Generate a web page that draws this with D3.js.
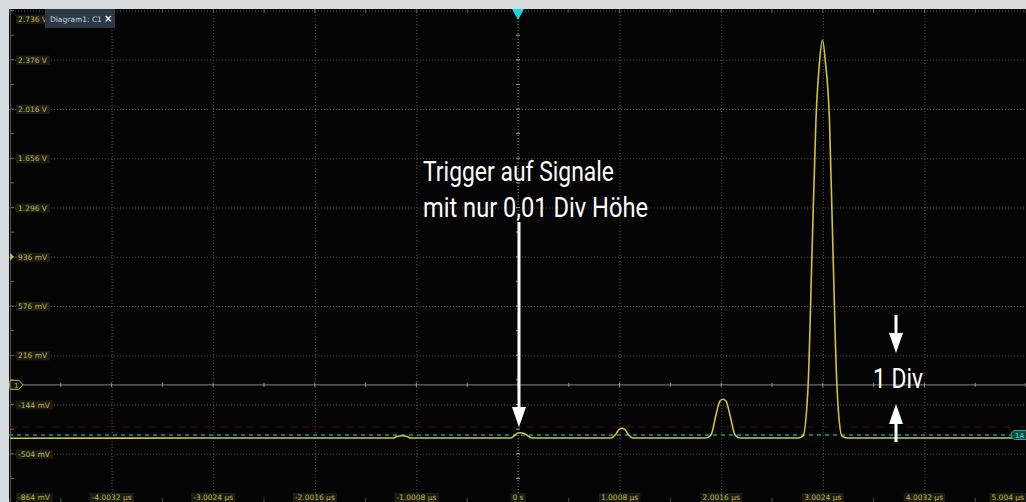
<!DOCTYPE html>
<html><head><meta charset="utf-8">
<script src="https://cdn.jsdelivr.net/npm/d3@7"></script>
<style>html,body{margin:0;padding:0;background:#d8dcdf;overflow:hidden}svg{display:block}</style>
</head><body>
<svg id="c" width="1026" height="502"></svg>
<script>
// ---- data ----
const xTickValues = [-5.004, -4.0032, -3.0024, -2.0016, -1.0008, 0, 1.0008, 2.0016, 3.0024, 4.0032, 5.004];
const xTickLabels = ["", "-4.0032 µs", "-3.0024 µs", "-2.0016 µs", "-1.0008 µs", "0 s", "1.0008 µs", "2.0016 µs", "3.0024 µs", "4.0032 µs", "5.004 µs"];
const yTickValues = [2.736, 2.376, 2.016, 1.656, 1.296, 0.936, 0.576, 0.216, -0.144, -0.504, -0.864];
const yTickLabels = ["2.736 V", "2.376 V", "2.016 V", "1.656 V", "1.296 V", "936 mV", "576 mV", "216 mV", "-144 mV", "-504 mV", "-864 mV"];
// waveform samples: time (µs), voltage (V)
const traceTime = [-5.004, -3.0, -1.231, -1.192, -1.143, -1.093, -1.054,
  -0.069, -0.030, 0.0, 0.030, 0.059, 0.099, 0.138,
  0.916, 0.965, 0.995, 1.024, 1.054, 1.083, 1.133,
  1.852, 1.901, 1.950, 1.990, 2.019, 2.049, 2.088, 2.138, 2.187,
  2.758, 2.807, 2.857, 2.896, 2.935, 2.970, 2.999, 3.028, 3.068, 3.103, 3.142, 3.191, 3.241,
  5.004];
const traceVolt = [-0.391, -0.389, -0.389, -0.378, -0.372, -0.378, -0.389,
  -0.389, -0.367, -0.352, -0.350, -0.356, -0.374, -0.389,
  -0.389, -0.360, -0.327, -0.318, -0.327, -0.360, -0.389,
  -0.389, -0.367, -0.221, -0.118, -0.106, -0.118, -0.221, -0.367, -0.389,
  -0.389, -0.374, -0.016, 0.963, 1.936, 2.360, 2.520, 2.360, 1.936, 0.963, -0.016, -0.374, -0.389,
  -0.389];
const triggerLevel = -0.367;
const hysteresisLevel = -0.308;
const groundLevel = 0;
const annotationLines = ["Trigger auf Signale", "mit nur 0,01 Div Höhe"];
const divLabel = "1 Div";

// ---- drawing ----
const svg = d3.select("#c");
const L = 9, T = 9, R = 1026, B = 502;
const x = d3.scaleLinear().domain([-5.004, 5.004]).range([10, 1026]);
const y = d3.scaleLinear().domain([-0.864, 2.736]).range([503, 10.5]);

svg.append("rect").attr("width", 1026).attr("height", 502).attr("fill", "#d8dcdf");
svg.append("rect").attr("x", L).attr("y", T).attr("width", R - L).attr("height", B - T).attr("fill", "#040404");
svg.append("clipPath").attr("id", "plot").append("rect").attr("x", L).attr("y", T).attr("width", R - L).attr("height", B - T);
const g = svg.append("g").attr("clip-path", "url(#plot)");

// grid via axes
g.append("g").attr("transform", `translate(0,${B})`)
  .call(d3.axisBottom(x).tickValues(xTickValues).tickSize(-(B - T)).tickFormat(""))
  .call(a => a.select(".domain").remove())
  .call(a => a.selectAll("line").attr("stroke", "#4e4e4e").attr("stroke-dasharray", "1,2"));
g.append("g").attr("transform", `translate(${L},0)`)
  .call(d3.axisLeft(y).tickValues(yTickValues).tickSize(-(R - L)).tickFormat(""))
  .call(a => a.select(".domain").remove())
  .call(a => a.selectAll("line").attr("stroke", "#4e4e4e").attr("stroke-dasharray", "1,2"));

// half-division minor ticks
const halfX = d3.range(xTickValues.length - 1).map(i => (xTickValues[i] + xTickValues[i + 1]) / 2);
const halfY = d3.range(yTickValues.length - 1).map(i => (yTickValues[i] + yTickValues[i + 1]) / 2);
const allX = xTickValues.concat(halfX), allY = yTickValues.concat(halfY);

// left edge line and ticks
g.append("line").attr("x1", 10.5).attr("x2", 10.5).attr("y1", T).attr("y2", B).attr("stroke", "#555");
g.selectAll(".ly").data(allY).join("line").attr("x1", 10).attr("x2", 14)
  .attr("y1", d => y(d)).attr("y2", d => y(d)).attr("stroke", "#666");
// top/bottom edge ticks
g.selectAll(".tx").data(allX).join("line").attr("x1", d => x(d)).attr("x2", d => x(d))
  .attr("y1", T).attr("y2", T + 4).attr("stroke", "#555");
g.selectAll(".bx").data(allX).join("line").attr("x1", d => x(d)).attr("x2", d => x(d))
  .attr("y1", B - 4).attr("y2", B).attr("stroke", "#555");

// center crosshair: ground line and trigger time line
g.append("line").attr("x1", L).attr("x2", R).attr("y1", y(groundLevel)).attr("y2", y(groundLevel))
  .attr("stroke", "#686868").attr("stroke-width", 1.2);
g.selectAll(".gx").data(allX).join("line").attr("x1", d => x(d)).attr("x2", d => x(d))
  .attr("y1", y(groundLevel) - 2).attr("y2", y(groundLevel) + 2).attr("stroke", "#999");
g.append("line").attr("x1", x(0)).attr("x2", x(0)).attr("y1", T).attr("y2", B)
  .attr("stroke", "#666").attr("stroke-dasharray", "1,2");
g.selectAll(".vy").data(allY).join("line").attr("x1", x(0) - 2).attr("x2", x(0) + 2)
  .attr("y1", d => y(d)).attr("y2", d => y(d)).attr("stroke", "#999");

// hysteresis (dim red) and trigger level (teal dashed)
g.append("line").attr("x1", L).attr("x2", R).attr("y1", y(hysteresisLevel)).attr("y2", y(hysteresisLevel))
  .attr("stroke", "#3e0a0a").attr("stroke-dasharray", "8,6");
g.append("line").attr("x1", L).attr("x2", R).attr("y1", y(triggerLevel)).attr("y2", y(triggerLevel))
  .attr("stroke", "#14968e").attr("stroke-width", 1.5).attr("stroke-dasharray", "4,4");

// waveform
const pts = traceTime.map((t, i) => [t, traceVolt[i]]);
const line = d3.line().x(d => x(d[0])).y(d => y(d[1])).curve(d3.curveMonotoneX);
g.append("path").attr("d", line(pts)).attr("fill", "none").attr("stroke", "#d0c532").attr("stroke-width", 1.6);

// y labels
const font = "'DejaVu Sans', sans-serif";
yTickValues.forEach((v, i) => {
  let yy = y(v) + 3;
  if (i === 0) yy = 22; if (i === yTickValues.length - 1) yy = 500;
  const tx = svg.append("text").attr("x", 18).attr("y", yy).text(yTickLabels[i])
    .attr("font-family", font).attr("font-size", 7.5).attr("fill", "#c2ba48");
  const bb = tx.node().getBBox();
  svg.insert("rect", () => tx.node()).attr("x", bb.x - 2).attr("y", bb.y).attr("width", bb.width + 4).attr("height", bb.height)
    .attr("fill", "#1c1c16");
});
// x labels
xTickValues.forEach((v, i) => {
  if (!xTickLabels[i]) return;
  let xx = x(v), anchor = "middle";
  if (i === xTickValues.length - 1) { xx = 1024; anchor = "end"; }
  const tx = svg.append("text").attr("x", xx).attr("y", 500).attr("text-anchor", anchor).text(xTickLabels[i])
    .attr("font-family", font).attr("font-size", 7.5).attr("fill", "#c2ba48");
  const bb = tx.node().getBBox();
  svg.insert("rect", () => tx.node()).attr("x", bb.x - 2).attr("y", bb.y).attr("width", bb.width + 4).attr("height", bb.height)
    .attr("fill", "#1c1c16");
});

// channel markers
svg.append("path").attr("d", `M10,${y(0.936) - 4} L14,${y(0.936)} L10,${y(0.936) + 4} Z`).attr("fill", "#c2ba48");
const gy = y(groundLevel);
svg.append("path").attr("d", `M10,${gy - 4.5} L19,${gy - 4.5} L23,${gy} L19,${gy + 4.5} L10,${gy + 4.5} Z`)
  .attr("fill", "#111").attr("stroke", "#c2ba48").attr("stroke-width", 1);
svg.append("text").attr("x", 14).attr("y", gy + 3).text("1").attr("font-family", font).attr("font-size", 7).attr("fill", "#c2ba48");

// trigger level tag at right
const ty = y(triggerLevel);
svg.append("rect").attr("x", 1011).attr("y", ty - 4.5).attr("width", 20).attr("height", 9).attr("rx", 4.5)
  .attr("fill", "#0d4d48").attr("stroke", "#22a89d");
svg.append("text").attr("x", 1015).attr("y", ty + 3).text("1A").attr("font-family", font).attr("font-size", 7).attr("fill", "#7fded5");

// trigger position marker at top
svg.append("path").attr("d", `M${x(0) - 6},9 L${x(0) + 6},9 L${x(0)},20 Z`).attr("fill", "#1fd2e0");

// diagram tab
svg.append("rect").attr("x", 45).attr("y", 9).attr("width", 70).attr("height", 19).attr("fill", "#2b3946");
svg.append("text").attr("x", 50).attr("y", 21.5).text("Diagram1: C1").attr("font-family", font).attr("font-size", 7.5).attr("fill", "#c9d3dc");
svg.append("text").attr("x", 104).attr("y", 22).text("×").attr("font-family", font).attr("font-size", 10).attr("font-weight", "bold").attr("fill", "#ffffff");

// annotations
const afont = "Roboto, 'Liberation Sans', sans-serif";
const a1 = svg.append("text").attr("font-family", afont).attr("font-size", 27).attr("fill", "#ffffff");
a1.append("tspan").attr("x", 423).attr("y", 181).attr("textLength", 191).attr("lengthAdjust", "spacingAndGlyphs").text(annotationLines[0]);
a1.append("tspan").attr("x", 423).attr("y", 217).attr("textLength", 225).attr("lengthAdjust", "spacingAndGlyphs").text(annotationLines[1]);
svg.append("text").attr("x", 873).attr("y", 388).attr("textLength", 50).attr("lengthAdjust", "spacingAndGlyphs")
  .attr("font-family", afont).attr("font-size", 27).attr("fill", "#ffffff").text(divLabel);

function arrow(xc, y0, yTip) {
  const dir = yTip > y0 ? 1 : -1;
  const headBase = yTip - dir * 20;
  svg.append("line").attr("x1", xc).attr("x2", xc).attr("y1", y0).attr("y2", headBase)
    .attr("stroke", "#ffffff").attr("stroke-width", 3);
  svg.append("path").attr("d", `M${xc - 7},${headBase} L${xc + 7},${headBase} L${xc},${yTip} Z`).attr("fill", "#ffffff");
}
arrow(x(0) + 1, 222, 427);
arrow(896, 315, 353);
arrow(896, 442, 404);
</script>
</body></html>
